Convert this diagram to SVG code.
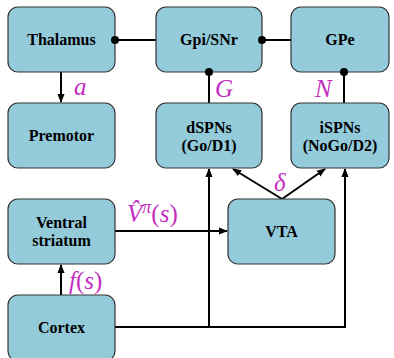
<svg xmlns="http://www.w3.org/2000/svg" width="394" height="358" viewBox="0 0 394 358">
<style>
.box{fill:#93cbdb;stroke:#333;stroke-width:1.2}
.t{font-family:"Liberation Serif",serif;font-weight:bold;font-size:16px;text-anchor:middle;fill:#000}
.m{font-family:"Liberation Serif",serif;font-style:italic;font-size:25px;fill:#c22fc0}
.mr{font-family:"Liberation Serif",serif;font-style:normal;font-size:25px;fill:#c22fc0}
.c line,.c path,.c polyline{stroke:#000;stroke-width:2;fill:none}
.dot{fill:#000}
</style>
<defs>
<marker id="ar" viewBox="0 0 10 10" refX="9" refY="5" markerWidth="4.5" markerHeight="4.5" orient="auto" markerUnits="strokeWidth"><path d="M0,1 L10,5 L0,9 Z" fill="#000"/></marker>
</defs>
<rect width="394" height="358" fill="#fff"/>
<g class="c" id="connectors">
<line x1="115" y1="40" x2="156" y2="40"/>
<line x1="262" y1="40" x2="291" y2="40"/>
<line x1="209" y1="72" x2="209" y2="103"/>
<line x1="344" y1="72" x2="344" y2="103"/>
<line x1="61" y1="72" x2="61" y2="102" marker-end="url(#ar)"/>
<line x1="61" y1="295" x2="61" y2="265" marker-end="url(#ar)"/>
<line x1="115" y1="231" x2="227" y2="231" marker-end="url(#ar)"/>
<polyline points="115,327 345,327 345,169" marker-end="url(#ar)"/>
<line x1="209" y1="327" x2="209" y2="169" marker-end="url(#ar)"/>
<line x1="282" y1="199" x2="233" y2="169" marker-end="url(#ar)"/>
<line x1="282" y1="199" x2="325" y2="169" marker-end="url(#ar)"/>
</g>
<g id="thalamus"><rect class="box" x="8" y="7" width="107" height="65" rx="10"/><text class="t" x="61.5" y="45">Thalamus</text></g>
<g id="premotor"><rect class="box" x="8" y="103" width="107" height="65" rx="10"/><text class="t" x="61.5" y="141">Premotor</text></g>
<g id="gpi"><rect class="box" x="156" y="7" width="106" height="65" rx="10"/><text class="t" x="209" y="45">Gpi/SNr</text></g>
<g id="gpe"><rect class="box" x="291" y="7" width="98" height="65" rx="10"/><text class="t" x="340" y="45">GPe</text></g>
<g id="dspns"><rect class="box" x="156" y="103" width="106" height="65" rx="10"/><text class="t" x="209" y="133">dSPNs</text><text class="t" x="209" y="151">(Go/D1)</text></g>
<g id="ispns"><rect class="box" x="291" y="103" width="98" height="65" rx="10"/><text class="t" x="340" y="133">iSPNs</text><text class="t" x="340" y="151">(NoGo/D2)</text></g>
<g id="ventral"><rect class="box" x="8" y="199" width="107" height="65" rx="10"/><text class="t" x="61.5" y="228">Ventral</text><text class="t" x="61.5" y="246">striatum</text></g>
<g id="vta"><rect class="box" x="228" y="199" width="107" height="65" rx="10"/><text class="t" x="281.5" y="237">VTA</text></g>
<g id="cortex"><rect class="box" x="8" y="295" width="107" height="66" rx="10"/><text class="t" x="61.5" y="333">Cortex</text></g>
<g id="dots">
<circle class="dot" cx="115" cy="40" r="4"/>
<circle class="dot" cx="262" cy="40" r="4"/>
<circle class="dot" cx="209" cy="72" r="4"/>
<circle class="dot" cx="344" cy="72" r="4"/>
</g>
<g id="labels">
<text class="m" x="74" y="95">a</text>
<text class="m" x="215" y="97">G</text>
<text class="m" x="315" y="97">N</text>
<text class="m" x="274" y="191">δ</text>
<text class="m" x="69" y="289">f<tspan class="mr">(</tspan>s<tspan class="mr">)</tspan></text>
<text class="m" x="127" y="222">V&#x302;<tspan font-size="18" dy="-9">π</tspan><tspan class="mr" dy="9">(</tspan>s<tspan class="mr">)</tspan></text>
</g>
</svg>
